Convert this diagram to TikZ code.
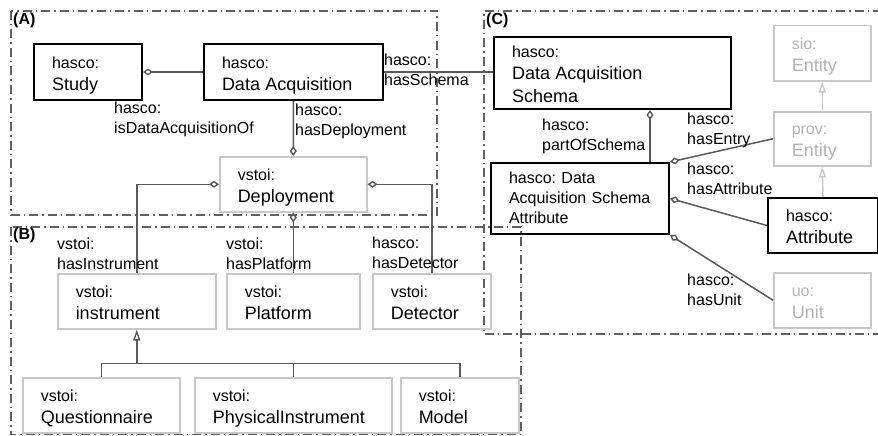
\documentclass[tikz,border=0pt]{standalone}
\usepackage{fontspec}
\setmainfont{Liberation Sans}
\usetikzlibrary{arrows.meta,calc}
\frenchspacing
\definecolor{connc}{HTML}{5A5A5A}
\definecolor{lightc}{HTML}{C8C8C8}
\definecolor{lighttext}{HTML}{B4B4B4}
\definecolor{grpc}{HTML}{606060}
\newcommand\pre{\fontsize{16}{22}\selectfont}
\newcommand\mn{\fontsize{18}{22}\selectfont}
\newcommand\topst{\rule{0pt}{18pt}}
\newcommand\botst{\rule[-4pt]{0pt}{4pt}}
\tikzset{
  cls/.style={rectangle, anchor=north west, inner xsep=18pt, inner ysep=0pt, align=left, font=\pre},
  blackcls/.style={cls, draw=black, line width=2pt},
  graycls/.style={cls, draw=lightc, line width=1.5pt},
  ghostcls/.style={graycls, text=lighttext},
  lbl/.style={anchor=north west, inner sep=0pt, align=left, font=\fontsize{16}{20}\selectfont},
  grpbox/.style={draw=grpc, line width=1.5pt, dash pattern=on 9pt off 4pt on 1.5pt off 4pt},
  grplbl/.style={font=\fontsize{16}{18}\selectfont\bfseries, anchor=west, inner sep=0pt},
  link/.style={draw=connc, line width=1.5pt},
  agg/.style={link, {Diamond[open, length=10pt, width=7pt, line width=1.4pt]}-},
  aggend/.style={link, -{Diamond[open, length=10pt, width=7pt, line width=1.4pt]}},
  inh/.style={link, -{Triangle[open, length=11pt, width=7pt, line width=1.4pt]}},
  inhlight/.style={inh, draw=lightc}
}
\begin{document}
\begin{tikzpicture}[x=1pt,y=-1pt]
\useasboundingbox (0,0) rectangle (878,436);
\fill[white] (0,0) rectangle (878,436);

% group boxes
\draw[grpbox] (11,11) rectangle (437,215);
\draw[grpbox] (11,227) rectangle (521,434.5);
\draw[grpbox] (882,11) -- (484,11) -- (484,334) -- (882,334);
\node[grplbl] (gA) at (13,20) {(A)};
\node[grplbl] (gB) at (13,235) {(B)};
\node[grplbl] (gC) at (486,20) {(C)};

% classes
\node[blackcls, minimum width=108, minimum height=56, text width=72] (study) at (33,43) {\topst hasco:\\{\mn Study\botst}};
\node[blackcls, minimum width=179, minimum height=56, text width=143] (da) at (203,43) {\topst hasco:\\{\mn Data Acquisition\botst}};
\node[graycls, minimum width=147, minimum height=55, text width=111] (dep) at (219,156) {\topst vstoi:\\{\mn Deployment\botst}};
\node[blackcls, minimum width=237, minimum height=72, text width=201] (das) at (493,36) {\topst hasco:\\{\mn Data Acquisition}\\{\mn Schema\botst}};
\node[blackcls, minimum width=178, minimum height=71, text width=142, font=\fontsize{16}{20}\selectfont] (dasa) at (490,162) {\rule{0pt}{14pt}\mbox{hasco: Data}\\\mbox{Acquisition Schema}\\\mbox{Attribute}\rule[-4pt]{0pt}{4pt}};
\node[ghostcls, minimum width=97, minimum height=55, text width=61] (sio) at (773,25) {\topst sio:\\{\mn Entity\botst}};
\node[ghostcls, minimum width=97, minimum height=54, text width=61] (prov) at (773,111) {\topst prov:\\{\mn Entity\botst}};
\node[blackcls, minimum width=110, minimum height=55, text width=74] (attr) at (767,197) {\topst hasco:\\{\mn Attribute\botst}};
\node[ghostcls, minimum width=97, minimum height=55, text width=61] (unit) at (773,272) {\topst uo:\\{\mn Unit\botst}};
\node[graycls, minimum width=158, minimum height=55, text width=122] (instr) at (57,273) {\topst vstoi:\\{\mn instrument\botst}};
\node[graycls, minimum width=133, minimum height=55, text width=97] (plat) at (226,273) {\topst vstoi:\\{\mn Platform\botst}};
\node[graycls, minimum width=118, minimum height=55, text width=82] (det) at (372,273) {\topst vstoi:\\{\mn Detector\botst}};
\node[graycls, minimum width=157, minimum height=55, text width=121] (quest) at (22,377) {\topst vstoi:\\{\mn Questionnaire\botst}};
\node[graycls, minimum width=197, minimum height=55, text width=161] (phys) at (194,377) {\topst vstoi:\\{\mn PhysicalInstrument\botst}};
\node[graycls, minimum width=118, minimum height=55, text width=82] (model) at (400,377) {\topst vstoi:\\{\mn Model\botst}};

% connectors
\draw[agg] (study.east) -- (da.west);
\draw[link] (da.east) -- (da.east -| das.west);
\draw[aggend] (da.south) -- (dep.north);
\draw[agg] (dep.west) -| (instr.north);
\draw[agg] (dep.south) -- (plat.north);
\draw[agg] (dep.east) -| (det.north);

\coordinate (jn) at ($(instr.south)+(0,34)$);
\draw[link] (quest.north) -- (quest.north |- jn) -- (model.north |- jn) -- (model.north);
\draw[link] (phys.north) -- (phys.north |- jn);
\draw[inh] (jn) -- (instr.south);

\coordinate (dasp) at ($(das.south west)+(157,0)$);
\draw[agg] (dasp) -- (dasp |- dasa.north);
\draw[agg] (dasa.north east) -- (prov.west);
\draw[agg] (dasa.east) -- (attr.west);
\draw[agg] (dasa.south east) -- (unit.west);
\draw[inhlight] (prov.north) -- (sio.south);
\draw[inhlight] (attr.north) -- (prov.south);

% labels
\node[lbl] (l1) at (114,102) {hasco:\\isDataAcquisitionOf};
\node[lbl] (l2) at (295,104) {hasco:\\hasDeployment};
\node[lbl] (l3) at (384,54) {hasco:\\hasSchema};
\node[lbl] (l4) at (57,238) {vstoi:\\hasInstrument};
\node[lbl] (l5) at (226,238) {vstoi:\\hasPlatform};
\node[lbl] (l6) at (372,237) {hasco:\\hasDetector};
\node[lbl] (l7) at (542,119) {hasco:\\partOfSchema};
\node[lbl] (l8) at (687,113) {hasco:\\hasEntry};
\node[lbl] (l9) at (687,163) {hasco:\\hasAttribute};
\node[lbl] (l10) at (687,274) {hasco:\\hasUnit};
\end{tikzpicture}
\end{document}
